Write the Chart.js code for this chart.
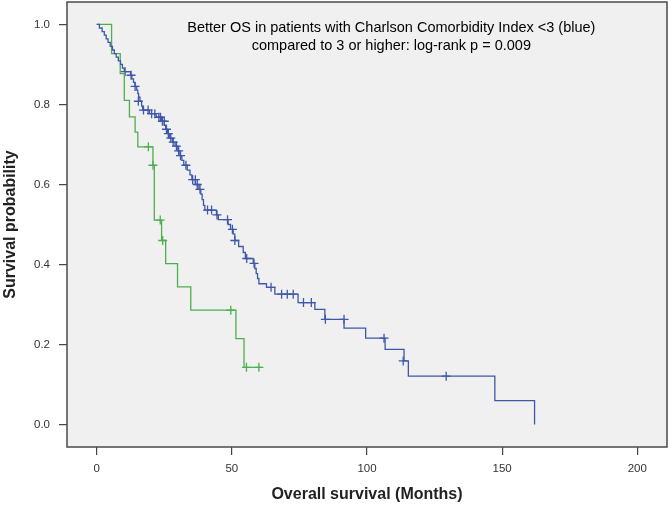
<!DOCTYPE html>
<html>
<head>
<meta charset="utf-8">
<script src="https://cdn.jsdelivr.net/npm/chart.js@4"></script>
<style>
  html, body { margin: 0; padding: 0; background: #fff; }
</style>
</head>
<body>
<canvas id="km" width="672" height="507"></canvas>
<script>
// Kaplan-Meier: CCI < 3 (blue) vs CCI >= 3 (green)
const blueTimes = [0, 1, 2, 2.8, 3.5, 4.2, 5, 5.8, 6.5, 7.2, 8, 8.8, 9.5, 10.2, 12.5, 13, 13.6, 14.2, 14.8, 15.2, 15.5, 16, 16.6, 17, 19.5, 22, 24, 25, 25.5, 26.2, 27, 28, 29, 30, 30.8, 31.5, 32.2, 33.5, 34.5, 35.2, 36.5, 37.8, 38.5, 39, 39.5, 40, 44.3, 45, 48.6, 49.5, 50.5, 51.1, 52.5, 54.2, 55, 57.9, 58.5, 59, 59.5, 60, 62.8, 65.9, 74.5, 80.7, 84.4, 91.5, 99.5, 106.7, 113.7, 115.3, 147.3, 162];
const blueSurv = [1.0, 0.991, 0.982, 0.973, 0.964, 0.955, 0.945, 0.936, 0.927, 0.918, 0.909, 0.9, 0.891, 0.882, 0.873, 0.864, 0.855, 0.845, 0.836, 0.827, 0.818, 0.808, 0.796, 0.786, 0.777, 0.768, 0.758, 0.748, 0.738, 0.727, 0.716, 0.706, 0.696, 0.684, 0.672, 0.66, 0.648, 0.636, 0.624, 0.612, 0.6, 0.588, 0.576, 0.562, 0.548, 0.536, 0.524, 0.512, 0.5, 0.488, 0.476, 0.46, 0.445, 0.43, 0.415, 0.403, 0.39, 0.377, 0.365, 0.352, 0.343, 0.326, 0.305, 0.288, 0.263, 0.241, 0.216, 0.188, 0.159, 0.121, 0.06, 0.0];
const blueCensorTimes = [10.5, 12.7, 14.2, 15.4, 17.3, 19, 20.3, 21.5, 23, 23.6, 24.3, 25, 25.8, 26.5, 27.4, 28.3, 29.5, 30.3, 31, 33, 35.5, 36.5, 37.2, 38.2, 41, 42.5, 44.5, 48.4, 50.2, 51.1, 55.5, 58.2, 64.5, 68.4, 70.5, 72.7, 76.5, 79.4, 84.6, 91.5, 106.3, 113.4, 129.3];
const blueCensorSurv = [0.882, 0.873, 0.845, 0.808, 0.786, 0.786, 0.777, 0.777, 0.768, 0.768, 0.758, 0.758, 0.738, 0.727, 0.716, 0.706, 0.696, 0.684, 0.672, 0.648, 0.612, 0.612, 0.6, 0.588, 0.536, 0.536, 0.524, 0.512, 0.488, 0.46, 0.415, 0.403, 0.343, 0.326, 0.326, 0.326, 0.305, 0.305, 0.263, 0.263, 0.216, 0.159, 0.121];

const greenTimes = [0, 5.5, 8.7, 10.2, 12.1, 14.2, 15.2, 20.8, 21.3, 24, 25.5, 29.9, 34.8, 51.5, 54.5, 61];
const greenSurv = [1.0, 0.927, 0.877, 0.81, 0.769, 0.731, 0.694, 0.648, 0.511, 0.46, 0.402, 0.344, 0.286, 0.215, 0.143, 0.143];
const greenCensorTimes = [19.1, 20.8, 23.5, 24.4, 49.6, 55.4, 60];
const greenCensorSurv = [0.694, 0.648, 0.511, 0.46, 0.286, 0.143, 0.143];

const xTicks = [0, 50, 100, 150, 200];
const yTicks = [0, 0.2, 0.4, 0.6, 0.8, 1.0];
const noteLines = [
  "Better OS in patients with Charlson Comorbidity Index <3 (blue)",
  "compared to 3 or higher: log-rank p = 0.009"
];

const BLUE = "#3f57a9";
const GREEN = "#4daf4f";
const FONT = "'Liberation Sans', Arial, sans-serif";

const pts = (xs, ys) => xs.map((x, i) => ({ x: x, y: ys[i] }));

const frame = {
  id: "frame",
  beforeDraw(c) {
    const a = c.chartArea, ctx = c.ctx;
    ctx.save();
    ctx.fillStyle = "#f0f0f0";
    ctx.fillRect(a.left, a.top, a.right - a.left, a.bottom - a.top);
    ctx.restore();
  },
  afterDraw(c) {
    const a = c.chartArea, ctx = c.ctx;
    ctx.save();
    ctx.strokeStyle = "#4a4a4a";
    ctx.lineWidth = 1.5;
    ctx.strokeRect(a.left, a.top, a.right - a.left, a.bottom - a.top);
    // note text
    ctx.fillStyle = "#000";
    ctx.font = "14.5px " + FONT;
    ctx.textAlign = "center";
    ctx.textBaseline = "middle";
    const cx = c.scales.x.getPixelForValue(109);
    ctx.fillText(noteLines[0], cx, c.scales.y.getPixelForValue(0.991));
    ctx.fillText(noteLines[1], cx, c.scales.y.getPixelForValue(0.946));
    ctx.restore();
  }
};

new Chart(document.getElementById("km"), {
  type: "line",
  data: {
    datasets: [
      { data: pts(blueTimes, blueSurv), borderColor: BLUE, borderWidth: 1.3, stepped: true, pointRadius: 0, fill: false },
      { data: pts(greenTimes, greenSurv), borderColor: GREEN, borderWidth: 1.3, stepped: true, pointRadius: 0, fill: false },
      { data: pts(blueCensorTimes, blueCensorSurv), showLine: false, pointStyle: "cross", pointRadius: 4.5, borderColor: BLUE, borderWidth: 1.3 },
      { data: pts(greenCensorTimes, greenCensorSurv), showLine: false, pointStyle: "cross", pointRadius: 4.5, borderColor: GREEN, borderWidth: 1.3 }
    ]
  },
  options: {
    responsive: false,
    animation: false,
    devicePixelRatio: 1,
    layout: { autoPadding: false, padding: { top: 2, right: 5, left: 0, bottom: 0 } },
    plugins: { legend: { display: false }, tooltip: { enabled: false } },
    scales: {
      x: {
        type: "linear",
        min: -11,
        max: 211,
        afterBuildTicks: s => { s.ticks = xTicks.map(v => ({ value: v })); },
        afterFit: s => { s.height = 60; s.paddingLeft = 0; s.paddingRight = 0; },
        border: { display: false },
        grid: { drawOnChartArea: false, drawTicks: true, tickLength: 8, color: "#444", lineWidth: 1.2 },
        ticks: { color: "#333", padding: 7, font: { family: FONT, size: 11.5 } },
        title: {
          display: true,
          text: "Overall survival (Months)",
          color: "#222",
          padding: { top: 4, bottom: 3 },
          font: { family: FONT, size: 16, weight: "bold" }
        }
      },
      y: {
        type: "linear",
        min: -0.056,
        max: 1.056,
        afterBuildTicks: s => { s.ticks = yTicks.map(v => ({ value: v })); },
        afterFit: s => { s.width = 67; s.paddingTop = 0; s.paddingBottom = 0; },
        border: { display: false },
        grid: { drawOnChartArea: false, drawTicks: true, tickLength: 8, color: "#444", lineWidth: 1.2 },
        ticks: {
          color: "#333",
          padding: 9,
          font: { family: FONT, size: 11.5 },
          callback: v => v.toFixed(1)
        },
        title: {
          display: true,
          text: "Survival probability",
          color: "#222",
          padding: { top: 1, bottom: 4 },
          font: { family: FONT, size: 16, weight: "bold" }
        }
      }
    }
  },
  plugins: [frame]
});
</script>
</body>
</html>
